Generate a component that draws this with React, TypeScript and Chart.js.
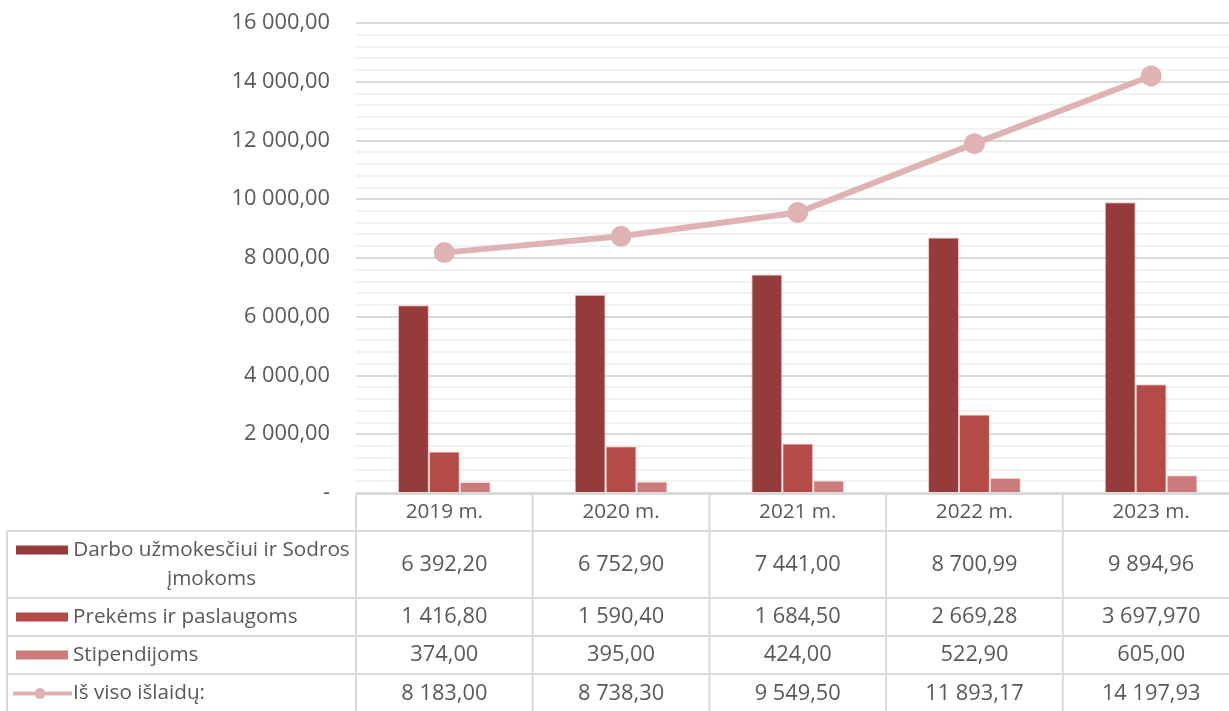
import React, { useEffect, useRef } from "react";
import { Chart, registerables } from "chart.js";

Chart.register(...registerables);

// ---- data ----
const categories = ["2019 m.", "2020 m.", "2021 m.", "2022 m.", "2023 m."];
const wages = [6392.2, 6752.9, 7441.0, 8700.99, 9894.96];
const goods = [1416.8, 1590.4, 1684.5, 2669.28, 3697.97];
const stipends = [374.0, 395.0, 424.0, 522.9, 605.0];
const totals = [8183.0, 8738.3, 9549.5, 11893.17, 14197.93];

const wagesText = ["6 392,20", "6 752,90", "7 441,00", "8 700,99", "9 894,96"];
const goodsText = ["1 416,80", "1 590,40", "1 684,50", "2 669,28", "3 697,970"];
const stipendsText = ["374,00", "395,00", "424,00", "522,90", "605,00"];
const totalsText = ["8 183,00", "8 738,30", "9 549,50", "11 893,17", "14 197,93"];

const seriesNames = [
  "Darbo užmokesčiui ir Sodros įmokoms",
  "Prekėms ir paslaugoms",
  "Stipendijoms",
  "Iš viso išlaidų:",
];
const seriesNameLines = [
  ["Darbo užmokesčiui ir Sodros", "įmokoms"],
  ["Prekėms ir paslaugoms"],
  ["Stipendijoms"],
  ["Iš viso išlaidų:"],
];

const yMin = 0;
const yMax = 16000;
const yMinorStep = 400;
const yMajorStep = 2000;

// ---- styles ----
const FONT = '"Open Sans", "DejaVu Sans", sans-serif';
const FS = 20.7;
const FS_NUM = 21.8;
const TEXT = "#595959";
const C_DARK = "#963b3b";
const C_MED = "#b44b49";
const C_LIGHT = "#cb7b7b";
const C_LINE = "#dfb3b3";
const TABLE_LINE = "#d9d9d9";

function fmt(v: number): string {
  if (v === 0) return "-";
  const fixed = Math.abs(v).toFixed(2);
  const [int, dec] = fixed.split(".");
  const grouped = int.replace(/\B(?=(\d{3})+(?!\d))/g, " ");
  return (v < 0 ? "-" : "") + grouped + "," + dec;
}

const rowTexts = [wagesText, goodsText, stipendsText, totalsText];
const rowColors = [C_DARK, C_MED, C_LIGHT, C_LINE];

const tablePlugin = {
  id: "dataTable",
  afterDraw(chart: any) {
    const ctx: CanvasRenderingContext2D = chart.ctx;
    const area = chart.chartArea;
    const xs = chart.scales.x;
    const n = categories.length;
    const colW = area.width / n;
    const top = area.bottom + 1;
    const headerH = 37;
    const rowH = [67, 38, 38, 39];
    const leftX = 7;
    const edges: number[] = [top, top + headerH];
    for (const h of rowH) edges.push(edges[edges.length - 1] + h);
    const right = area.right;

    ctx.save();
    ctx.strokeStyle = TABLE_LINE;
    ctx.lineWidth = 2;
    ctx.beginPath();
    ctx.moveTo(area.left, edges[0]);
    ctx.lineTo(right, edges[0]);
    for (let i = 1; i < edges.length; i++) {
      ctx.moveTo(leftX, edges[i]);
      ctx.lineTo(right, edges[i]);
    }
    ctx.moveTo(leftX, edges[1]);
    ctx.lineTo(leftX, edges[edges.length - 1]);
    for (let i = 0; i <= n; i++) {
      const x = area.left + i * colW;
      ctx.moveTo(x, edges[0]);
      ctx.lineTo(x, edges[edges.length - 1]);
    }
    ctx.stroke();

    ctx.fillStyle = TEXT;
    ctx.font = `${FS}px ${FONT}`;
    ctx.textBaseline = "middle";
    ctx.textAlign = "center";
    categories.forEach((c, i) => {
      ctx.fillText(c, xs.getPixelForValue(i), (edges[0] + edges[1]) / 2);
    });
    ctx.font = `${FS_NUM}px ${FONT}`;
    rowTexts.forEach((row, r) => {
      const cy = (edges[r + 1] + edges[r + 2]) / 2;
      row.forEach((t, i) => {
        ctx.fillText(t, xs.getPixelForValue(i), cy);
      });
    });
    ctx.font = `${FS}px ${FONT}`;
    const textLeft = 73;
    const textRight = area.left - 6;
    seriesNameLines.forEach((lines, r) => {
      const cy = (edges[r + 1] + edges[r + 2]) / 2;
      const lh = 29;
      const firstY = cy - ((lines.length - 1) * lh) / 2;
      if (r < 3) {
        ctx.fillStyle = rowColors[r];
        ctx.fillRect(16, firstY - 4.5, 52, 9);
      } else {
        ctx.strokeStyle = rowColors[r];
        ctx.lineWidth = 4;
        ctx.beginPath();
        ctx.moveTo(13, firstY);
        ctx.lineTo(72, firstY);
        ctx.stroke();
        ctx.fillStyle = rowColors[r];
        ctx.beginPath();
        ctx.arc(40, firstY, 5.5, 0, Math.PI * 2);
        ctx.fill();
      }
      ctx.fillStyle = TEXT;
      if (lines.length > 1) {
        ctx.textAlign = "center";
        lines.forEach((ln, k) => ctx.fillText(ln, (textLeft + textRight) / 2, firstY + k * lh));
      } else {
        ctx.textAlign = "left";
        ctx.fillText(lines[0], textLeft, firstY);
      }
    });
    ctx.restore();
  },
};

export default function App() {
  const ref = useRef<HTMLCanvasElement | null>(null);
  useEffect(() => {
    if (!ref.current) return;
    Chart.defaults.font.family = FONT;
    const chart = new Chart(ref.current, {
      type: "bar",
      data: {
        labels: categories,
        datasets: [
          {
            type: "line",
            label: seriesNames[3],
            data: totals,
            borderColor: C_LINE,
            backgroundColor: C_LINE,
            borderWidth: 6,
            pointRadius: 10.5,
            pointHoverRadius: 10.5,
            pointBackgroundColor: C_LINE,
            pointBorderColor: C_LINE,
            pointBorderWidth: 0,
            order: 0,
          } as any,
          {
            label: seriesNames[0],
            data: wages,
            backgroundColor: C_DARK,
            borderColor: "rgba(230,170,170,0.7)",
            borderWidth: 1,
            order: 1,
          },
          {
            label: seriesNames[1],
            data: goods,
            backgroundColor: C_MED,
            borderColor: "rgba(240,190,190,0.7)",
            borderWidth: 1,
            order: 1,
          },
          {
            label: seriesNames[2],
            data: stipends,
            backgroundColor: C_LIGHT,
            borderColor: "rgba(245,205,205,0.7)",
            borderWidth: 1,
            order: 1,
          },
        ],
      },
      options: {
        animation: false,
        responsive: false,
        devicePixelRatio: 1,
        categoryPercentage: 0.525,
        barPercentage: 1.0,
        layout: { padding: { left: 0, right: 9, top: 23, bottom: 218 } },
        plugins: {
          legend: { display: false },
          tooltip: { enabled: false },
          title: { display: false },
        },
        scales: {
          x: {
            display: false,
            offset: true,
          },
          y: {
            min: yMin,
            max: yMax,
            afterFit: (scale: any) => {
              scale.width = 356;
            },
            border: { display: false },
            grid: {
              drawTicks: true,
              tickLength: 26,
              tickColor: "rgba(0,0,0,0)",
              lineWidth: 2,
              color: (c: any) =>
                c.tick && c.tick.value % yMajorStep === 0 ? "#d9d9d9" : "#f2f2f2",
            },
            ticks: {
              stepSize: yMinorStep,
              maxTicksLimit: 1000,
              autoSkip: false,
              padding: 0,
              color: TEXT,
              font: { size: FS_NUM, family: FONT },
              callback: (v: any) => (Number(v) % yMajorStep === 0 ? fmt(Number(v)) : ""),
            },
          },
        },
      } as any,
      plugins: [tablePlugin],
    });
    return () => chart.destroy();
  }, []);

  return (
    <div
      style={{
        position: "fixed",
        left: 0,
        top: 0,
        width: 1229,
        height: 711,
        overflow: "hidden",
        background: "#ffffff",
      }}
    >
      <canvas ref={ref} width={1250} height={711} style={{ display: "block", width: 1250, height: 711 }} />
    </div>
  );
}
